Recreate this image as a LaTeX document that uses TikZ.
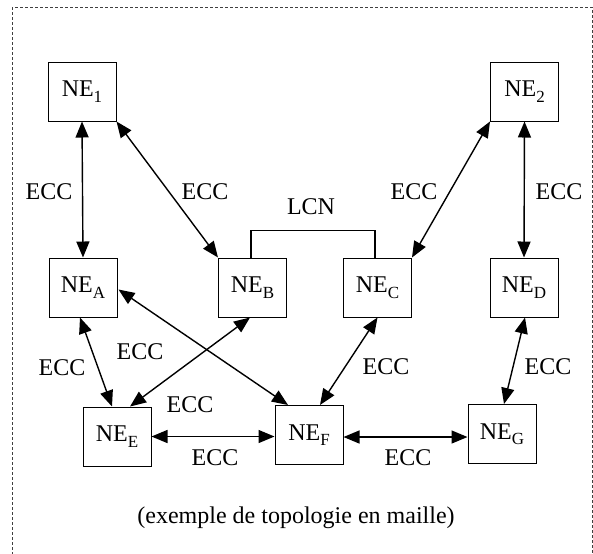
\documentclass[tikz,border=0pt]{standalone}
\usepackage{fontspec}
\setmainfont{Liberation Serif}
\usetikzlibrary{arrows.meta,calc}
% lowered subscript in the style of a word processor
\newcommand\nesub[1]{\raisebox{-0.5ex}{\fontsize{8.5pt}{10pt}\selectfont #1}}
\begin{document}
\begin{tikzpicture}[x=0.5pt,y=-0.5pt,
  font=\fontsize{12pt}{14pt}\selectfont,
  ne/.style={draw,line width=0.5pt,minimum width=34pt,minimum height=29.5pt,inner sep=0pt},
  link/.style={line width=0.7pt,{Triangle[length=8pt,width=6.5pt]}-{Triangle[length=8pt,width=6.5pt]}},
  lbl/.style={inner sep=0pt}]
\useasboundingbox (0,0) rectangle (593,553);
% dashed frame around the figure (its lower edge lies below the page)
\draw[line width=0.45pt,dash pattern=on 1.6pt off 0.9pt,black!75] (12.3,7) rectangle (592,570);

% network elements
\node[ne] (n1) at (82,91.5) {NE\nesub{1}};
\node[ne] (n2) at (524.5,91.5) {NE\nesub{2}};
\node[ne] (na) at (83,287.5) {NE\nesub{A}};
\node[ne] (nb) at (252.5,287.5) {NE\nesub{B}};
\node[ne] (nc) at (377.5,287.5) {NE\nesub{C}};
\node[ne] (nd) at (524,287.5) {NE\nesub{D}};
\node[ne] (ne) at (117,436.5) {NE\nesub{E}};
\node[ne] (nf) at (309,435) {NE\nesub{F}};
\node[ne] (ng) at (502,434) {NE\nesub{G}};

% local communication network between NE_B and NE_C
\coordinate (lb) at ($(nb.north)+(-1.5,-27)$);
\coordinate (lc) at ($(nc.north)+(-2.5,-27)$);
\draw[line width=0.65pt] ($(nb.north)+(-1.5,0)$) -- (lb) -- (lc) -- ($(nc.north)+(-2.5,0)$);
\node[lbl] (lcn) at (311,207) {LCN};

% ECC links
\draw[link] (n1.south) -- (na.north);
\draw[link] (n1.south east) -- (nb.north west);
\draw[link] (n2.south west) -- (nc.north east);
\draw[link] (n2.south) -- (nd.north);
\draw[link] ($(na.south)+(-3,0)$) -- ($(ne.north)+(-5,0)$);
\draw[link] ($(nb.south)+(-2.5,0)$) -- ($(ne.north)+(13,0)$);
\draw[link] ($(na.east)+(1,2)$) -- ($(nf.north)+(-21,0)$);
\draw[link] (nc.south) -- ($(nf.north)+(11,0)$);
\draw[link] ($(nd.south)+(1,0)$) -- ($(ng.north)+(2,0)$);
\draw[link] (ne.east) -- (ne.east -| nf.west);
\coordinate (fe) at ($(nf.east)+(0,2)$);
\draw[link] (fe) -- (fe -| ng.west);

% link labels
\node[lbl] (e1) at (49,192) {ECC};
\node[lbl] (e2) at (205,192) {ECC};
\node[lbl] (e3) at (414,192) {ECC};
\node[lbl] (e4) at (559,192) {ECC};
\node[lbl] (e5) at (62,368) {ECC};
\node[lbl] (e6) at (140,352) {ECC};
\node[lbl] (e7) at (190,405) {ECC};
\node[lbl] (e8) at (215,458) {ECC};
\node[lbl] (e9) at (386,367) {ECC};
\node[lbl] (e10) at (548,367) {ECC};
\node[lbl] (e11) at (408,458) {ECC};

\node[lbl] (cap) at (296,518) {(exemple de topologie en maille)};
\end{tikzpicture}
\end{document}
